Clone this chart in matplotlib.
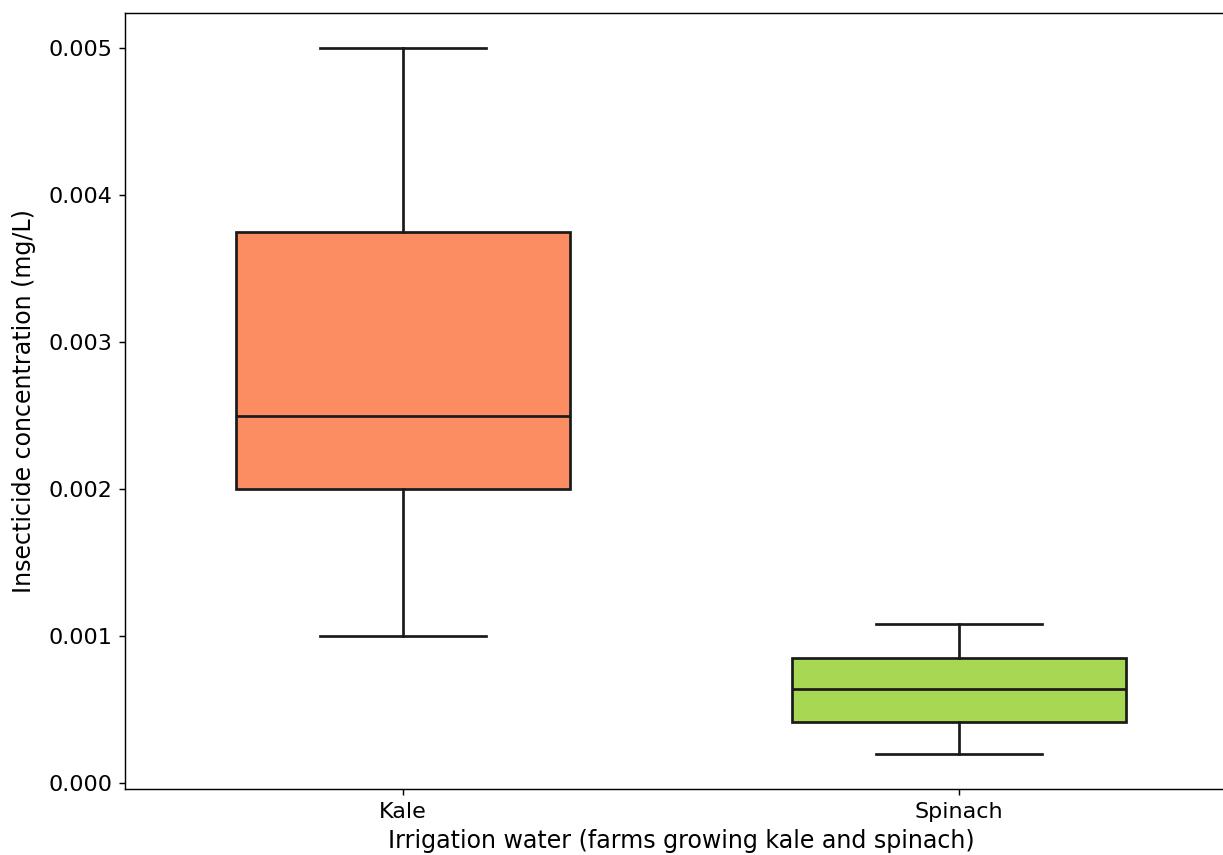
import matplotlib
matplotlib.use("Agg")
import matplotlib.pyplot as plt

categories = ["Kale", "Spinach"]
whislo = [0.0010, 0.00020]
q1 = [0.0020, 0.00042]
med = [0.0025, 0.00064]
q3 = [0.00375, 0.000855]
whishi = [0.0050, 0.00108]
colors = ["#FC8D62", "#A6D854"]

DPI = 130
fig = plt.figure(figsize=(1223 / DPI, 855 / DPI), dpi=DPI)
ax = fig.add_axes([125 / 1223, 1 - 789.3 / 855, (1237 - 125) / 1223, (789.3 - 12.5) / 855])

stats = []
for i, c in enumerate(categories):
    stats.append(dict(label=c, whislo=whislo[i], q1=q1[i], med=med[i],
                      q3=q3[i], whishi=whishi[i], fliers=[]))

lc = "#1a1a1a"
lw = 1.5
bp = ax.bxp(stats, positions=range(len(categories)), widths=0.6,
            patch_artist=True, showfliers=False, capwidths=0.3,
            boxprops=dict(edgecolor=lc, linewidth=lw),
            whiskerprops=dict(color=lc, linewidth=lw),
            capprops=dict(color=lc, linewidth=lw),
            medianprops=dict(color=lc, linewidth=lw))
for patch, col in zip(bp["boxes"], colors):
    patch.set_facecolor(col)

ax.set_xlim(-0.5, 1.5)
ax.set_ylim(-0.0000408, 0.00524)
yt = [0, 0.001, 0.002, 0.003, 0.004, 0.005]
ax.set_yticks(yt)
ax.set_yticklabels([f"{v:.3f}" for v in yt])
ax.set_xticks(range(len(categories)))
ax.set_xticklabels(categories)
ax.tick_params(labelsize=12.3)
ax.set_xlabel("Irrigation water (farms growing kale and spinach)", fontsize=13.2, labelpad=4)
ax.set_ylabel("Insecticide concentration (mg/L)", fontsize=13.2, labelpad=7)

fig.savefig("out.png", dpi=DPI)
